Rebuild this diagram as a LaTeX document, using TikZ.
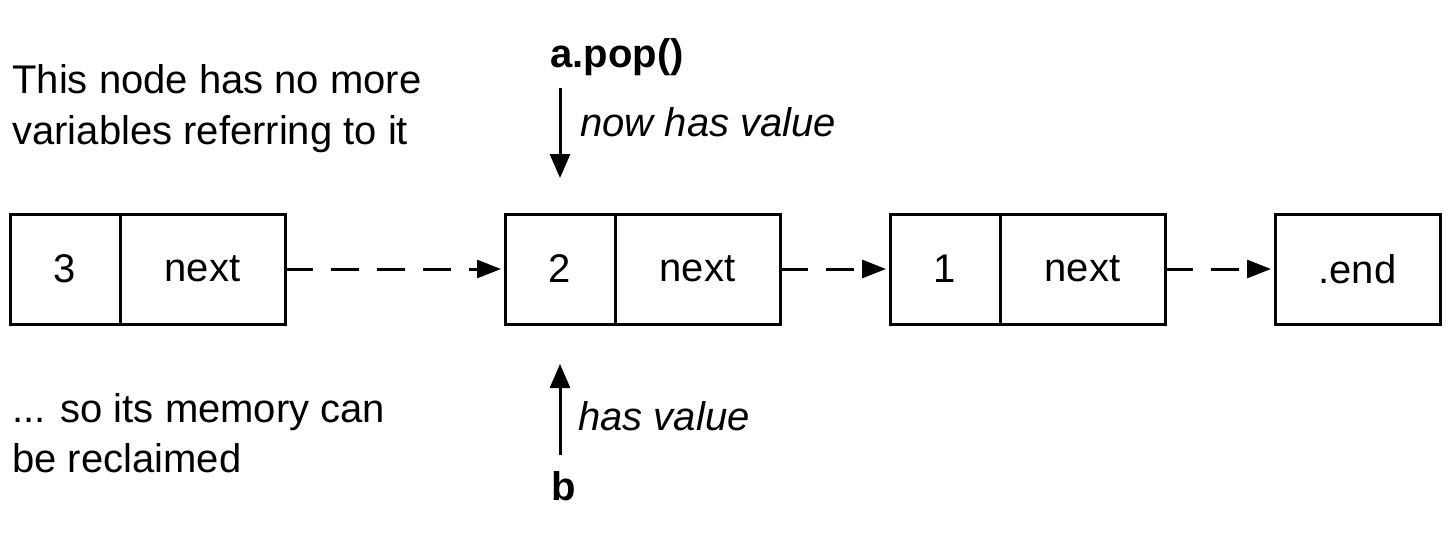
\documentclass[tikz,border=0pt]{standalone}
\usepackage{fontspec}
\setmainfont{Liberation Sans}
\usetikzlibrary{positioning}
\usetikzlibrary{arrows.meta}

\begin{document}
\begin{tikzpicture}[
        x = 0.5pt, y = -0.5pt,
        cell/.style = {
            draw,
            line width = 1.5pt,
            minimum width = #1,
            minimum height = 55pt,
            inner sep = 0pt,
            outer sep = 0pt,
            font = \fontsize{20}{25}\selectfont
        },
        cell/.default = 82.5pt,
        link/.style = {line width = 1.5pt, dash pattern = on 14pt off 9pt,
            shorten > = 2pt, -{Triangle[length=12pt, width=9pt]}},
        ptr/.style = {line width = 1.5pt, -{Triangle[length=12pt, width=10pt]}},
        note/.style = {inner sep = 0pt, align = left, font = \fontsize{20}{25}\selectfont},
        node distance = {0pt}
        ]
        \useasboundingbox (0,0) rectangle (1450,535);
%
        \node[cell=55pt] (v3) at (65,269) {3};
        \node[cell, right=0pt of v3] (n3) {next};
%
        \node[cell=55pt, right=110pt of n3] (v2) {2};
        \node[cell, right=0pt of v2] (n2) {next};
%
        \node[cell=55pt, right=55pt of n2] (v1) {1};
        \node[cell, right=0pt of v1] (n1) {next};
%
        \node[cell, right=55pt of n1] (vend) {.end};
%
        \draw[link] (n3) -- (v2);
        \draw[link] (n2) -- (v1);
        \draw[link] (n1) -- (vend);
%
        \node[note, anchor=base west] (orphan) at (12,144) {This node has no more\\variables referring to it};
        \node[note, anchor=base west] (reclaim) at (12,472) {... so its memory can\\be reclaimed};
%
        \node[note, anchor=base west, font=\fontsize{20}{25}\selectfont\bfseries] (apop) at (550,68) {a.pop()};
        \coordinate (popstart) at (560,88);
        \draw[ptr, shorten > = 18pt] (popstart) -- (v2);
        \node[note, anchor=base west, font=\fontsize{20}{25}\selectfont\itshape] (nowval) at (580,136) {now has value};
%
        \node[note, anchor=base west, font=\fontsize{20}{25}\selectfont\bfseries] (b) at (551,500) {b};
        \coordinate (bstart) at (560,455);
        \draw[ptr, shorten > = 20pt] (bstart) -- (v2);
        \node[note, anchor=base west, font=\fontsize{20}{25}\selectfont\itshape] (hasval) at (578,430) {has value};
    \end{tikzpicture}
\end{document}
